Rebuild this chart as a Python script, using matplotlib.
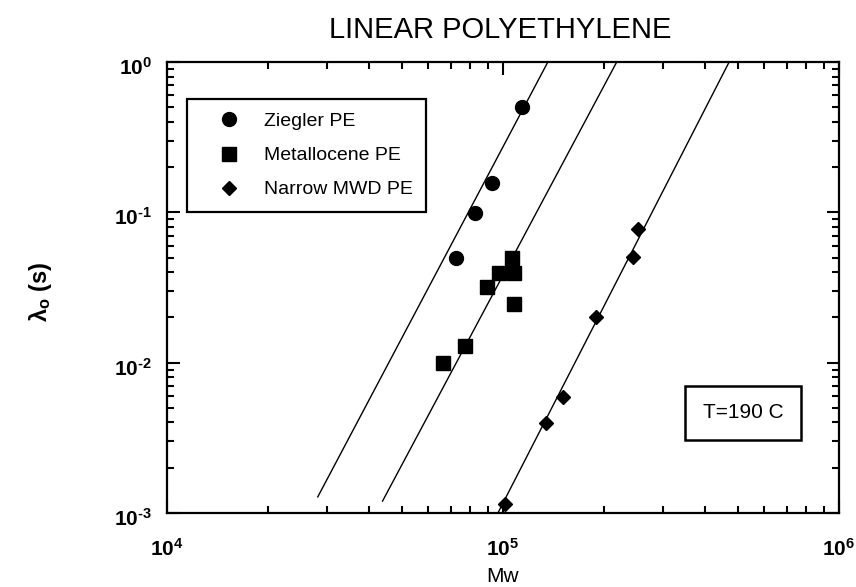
import math
import matplotlib
matplotlib.use("Agg")
import matplotlib.pyplot as plt
from matplotlib.ticker import LogLocator, FuncFormatter, NullFormatter
from matplotlib.transforms import ScaledTranslation

plt.rcParams['font.family'] = ['Liberation Sans', 'DejaVu Sans']
plt.rcParams['mathtext.fontset'] = 'custom'
plt.rcParams['mathtext.rm'] = 'Liberation Sans:bold'
plt.rcParams['mathtext.bf'] = 'Liberation Sans:bold'
plt.rcParams['mathtext.it'] = 'Liberation Sans:italic:bold'

# datos
ziegler_mw = [72300, 82600, 92500, 113700]
ziegler_lam = [0.0497, 0.0994, 0.157, 0.500]

metal_mw = [66400, 77100, 89700, 97300, 106200, 107900, 107900]
metal_lam = [0.0100, 0.0130, 0.0320, 0.0395, 0.0499, 0.0395, 0.0247]

narrow_mw = [101400, 134300, 151000, 189000, 244000, 253000]
narrow_lam = [0.00115, 0.00398, 0.00593, 0.0200, 0.0502, 0.0774]

# rectas de ajuste (extremos)
fit_ziegler_mw = [28100, 136000]
fit_ziegler_lam = [0.00128, 1.0]
fit_metal_mw = [43800, 218000]
fit_metal_lam = [0.00120, 1.0]
fit_narrow_mw = [97000, 471000]
fit_narrow_lam = [0.00102, 1.0]

W, H = 856, 587
fig = plt.figure(figsize=(W / 100, H / 100), dpi=100)
ax = fig.add_axes([167 / W, (H - 513) / H, 672 / W, 451 / H])

ax.plot(fit_ziegler_mw, fit_ziegler_lam, color='black', lw=1.0)
ax.plot(fit_metal_mw, fit_metal_lam, color='black', lw=1.0)
ax.plot(fit_narrow_mw, fit_narrow_lam, color='black', lw=1.0)

ax.plot(ziegler_mw, ziegler_lam, 'o', color='black', ms=10, label='Ziegler PE', clip_on=False)
ax.plot(metal_mw, metal_lam, 's', color='black', ms=10.5, label='Metallocene PE', clip_on=False)
ax.plot(narrow_mw, narrow_lam, 'D', color='black', ms=7.5, label='Narrow MWD PE', clip_on=False)

ax.set_xscale('log')
ax.set_yscale('log')
ax.set_xlim(1e4, 1e6)
ax.set_ylim(1e-3, 1e0)

for s in ax.spines.values():
    s.set_linewidth(1.6)


def potencia(v, p):
    e = round(math.log10(v))
    exp = r'\text{-}%d' % -e if e < 0 else '%d' % e
    return r'$\mathbf{10}^{%s}$' % exp


ax.xaxis.set_major_locator(LogLocator(base=10, numticks=10))
ax.yaxis.set_major_locator(LogLocator(base=10, numticks=10))
ax.xaxis.set_minor_locator(LogLocator(base=10, subs=range(2, 10), numticks=20))
ax.yaxis.set_minor_locator(LogLocator(base=10, subs=range(2, 10), numticks=20))
ax.xaxis.set_major_formatter(FuncFormatter(potencia))
ax.yaxis.set_major_formatter(FuncFormatter(potencia))
ax.xaxis.set_minor_formatter(NullFormatter())
ax.yaxis.set_minor_formatter(NullFormatter())

ax.tick_params(which='both', direction='in', top=True, right=True, width=1.5, labelsize=15)
ax.tick_params(which='major', length=9)
ax.tick_params(which='minor', length=5)
ax.tick_params(axis='x', which='major', pad=18)
ax.tick_params(axis='y', which='major', pad=11)
bajar = ScaledTranslation(0, -4 / 100, fig.dpi_scale_trans)
for t in ax.get_yticklabels():
    t.set_transform(t.get_transform() + bajar)

leg = ax.legend(loc='upper left', bbox_to_anchor=(0.0298, 0.918), borderaxespad=0,
                fontsize=14, fancybox=False, framealpha=1, edgecolor='black',
                borderpad=0.7, handlelength=2.9, handletextpad=0.35, labelspacing=0.85,
                numpoints=1)
leg.get_frame().set_linewidth(1.6)

ax.text(0.857, 0.222, 'T=190 C', transform=ax.transAxes, ha='center', va='center',
        fontsize=15, bbox=dict(boxstyle='square,pad=0.85', fc='white', ec='black', lw=1.8))

fig.text(500 / W, 1 - 30 / H, 'LINEAR POLYETHYLENE', ha='center', va='center', fontsize=21)
fig.text(503 / W, 1 - 577 / H, 'Mw', ha='center', va='center', fontsize=15)
fig.text(40 / W, 1 - 292 / H, r'λ$_\mathbf{o}$ (s)', ha='center', va='center', rotation=90,
         fontsize=17, fontweight='bold')

fig.savefig('out.png', dpi=100)
